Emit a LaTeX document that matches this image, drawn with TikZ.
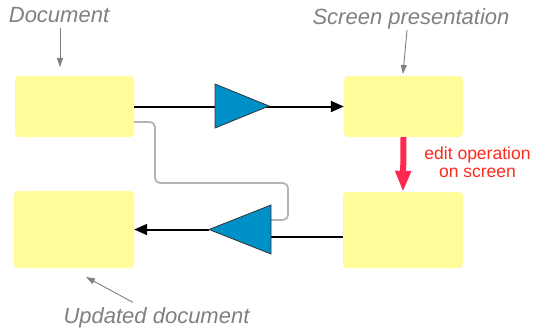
\documentclass[tikz,border=0pt]{standalone}
\usepackage{fontspec}
\setmainfont{Liberation Sans}
\usetikzlibrary{arrows.meta,calc}
\definecolor{boxyellow}{HTML}{FFFC99}
\definecolor{ampblue}{HTML}{0090C8}
\definecolor{labelgray}{HTML}{808080}
\definecolor{wiregray}{HTML}{B4B4B4}
\definecolor{editred}{HTML}{FF2850}
\definecolor{edittext}{HTML}{FF2A1E}
\tikzset{
  store/.style={fill=boxyellow, rounded corners=4pt, inner sep=0pt, minimum width=119pt},
  caption/.style={font=\fontsize{22}{26}\selectfont\itshape, text=labelgray, inner sep=0pt},
  pointer/.style={draw=labelgray, line width=0.9pt, -{Triangle[length=9pt,width=6pt]}},
  flow/.style={draw=black, line width=2pt, -{Triangle[length=13pt,width=11pt]}},
  wire/.style={draw=black, line width=2pt},
  feedback/.style={draw=wiregray, line width=1.8pt, rounded corners=5pt},
  amp/.style={fill=ampblue, draw=black!80, line width=0.8pt, line join=miter},
  editarrow/.style={draw=editred, line width=6pt, -{Triangle[length=21pt,width=15pt]}}
}
\begin{document}
\begin{tikzpicture}[x=1pt,y=-1pt]
\useasboundingbox (0,0) rectangle (535,329);

% data stores
\node[store, minimum height=61pt] (A) at (74.5,106.5) {};
\node[store, minimum height=61pt] (B) at (403.5,106.5) {};
\node[store, minimum height=76pt, minimum width=120pt] (C) at (403,230) {};
\node[store, minimum height=77pt, minimum width=120pt] (D) at (74,229.5) {};

% captions
\node[caption, anchor=base] (doclbl) at (59,23) {Document};
\node[caption, anchor=base] (scrlbl) at (411,25) {Screen presentation};
\node[caption, anchor=base] (updlbl) at (156.5,323.5) {Updated document};
\node[font=\fontsize{17.5}{18}\selectfont, text=edittext, align=center, inner sep=0pt]
  (editlbl) at (477.5,162) {edit operation\\on screen};

% caption pointers
\coordinate (docpt) at (60,67);
\coordinate (scrpt) at (403,74);
\coordinate (updpt) at (86,277);
\draw[pointer] (doclbl.south -| docpt) ++(0,5) -- (docpt);
\draw[pointer] ($(scrlbl.south)+(-4,0)$) -- (scrpt);
\draw[pointer] ($(updlbl.north)+(-23.5,-5)$) -- (updpt);

% feedback wire from the document to the lower amplifier
\draw[feedback] ($(A.east)+(0,15.5)$) -| (155,183) -| (288,220) -- (271,220);

% forward path
\draw[flow] (A.east) -- (B.west);
\coordinate (t1base) at (215,106);
\coordinate (t1tip) at (269,106);
\path[amp] (215,84) -- (t1tip) -- (215,128) -- cycle;

% return path
\coordinate (t2base) at (271,237);
\coordinate (t2tip) at (209,229.5);
\draw[wire] ($(C.west)+(0,7)$) -- (t2base);
\draw[flow] (t2tip) -- (D.east);
\path[amp] (271,205) -- (t2tip) -- (271,254) -- cycle;

% edit step
\draw[editarrow] (B.south) -- (C.north);
\end{tikzpicture}
\end{document}
